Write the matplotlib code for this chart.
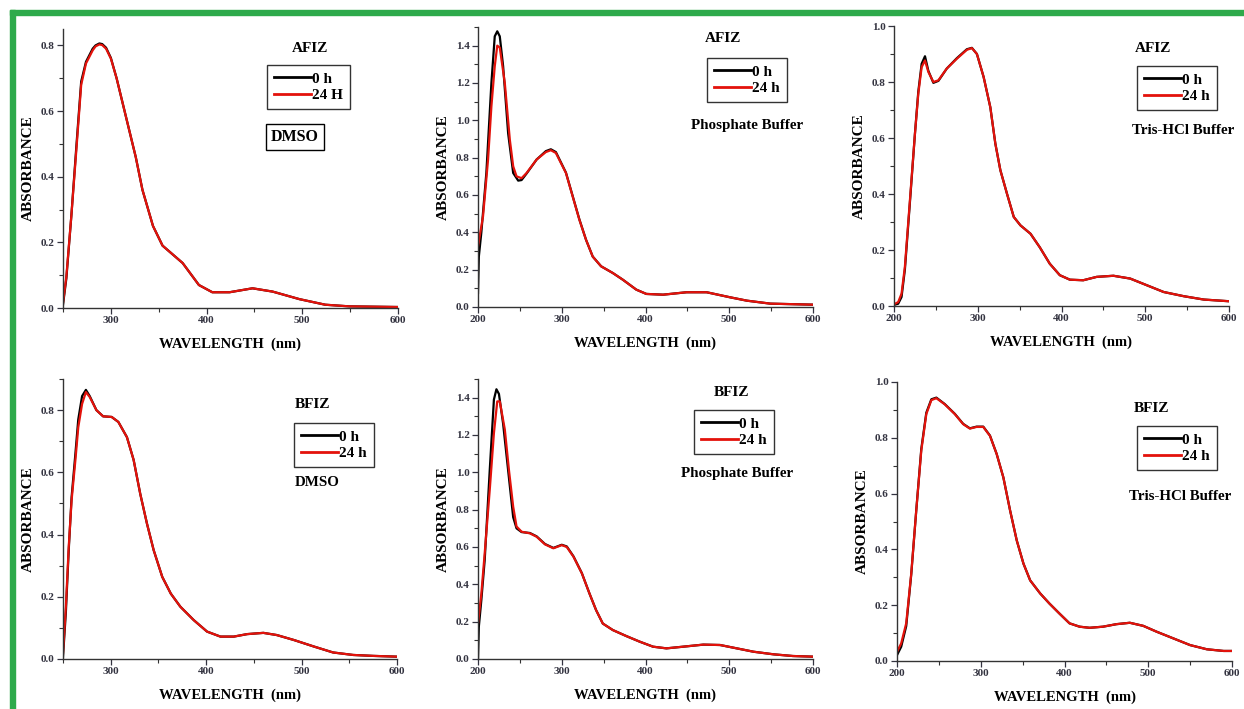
# UV-Vis stability plots for AFIZ / BFIZ in three solvents (0 h vs 24 h)
import matplotlib
matplotlib.use("Agg")
import matplotlib.pyplot as plt
from matplotlib.ticker import MultipleLocator
from matplotlib.lines import Line2D
from matplotlib.patches import Rectangle

plt.rcParams["font.family"] = ["Liberation Serif", "DejaVu Serif"]
plt.rcParams["font.weight"] = "bold"

# ---- AFIZ, DMSO ----
wl_afiz_dmso = [250, 253.5, 258.7, 263.9, 269, 274, 281, 284, 288, 291, 295, 300, 306, 316, 326, 333,
                344, 354, 375, 392, 406, 424, 448, 469, 497, 524, 549, 600]
afiz_dmso_24h = [0.015, 0.096, 0.28, 0.48, 0.68, 0.745, 0.785, 0.797, 0.803, 0.801, 0.79, 0.76, 0.70,
                 0.58, 0.46, 0.36, 0.25, 0.19, 0.137, 0.07, 0.048, 0.048, 0.06, 0.05, 0.027, 0.01,
                 0.005, 0.003]
afiz_dmso_0h = [0.01, 0.09, 0.28, 0.49, 0.69, 0.75, 0.79, 0.80, 0.806, 0.804, 0.793, 0.762, 0.70,
                0.58, 0.46, 0.36, 0.25, 0.19, 0.137, 0.07, 0.048, 0.048, 0.06, 0.05, 0.027, 0.01,
                0.005, 0.003]

# ---- AFIZ, phosphate buffer ----
wl_afiz_pb_24 = [200, 206, 212, 216, 220, 223, 226, 232, 238, 242, 246, 252, 258, 270, 281, 287, 293,
                 305, 313, 321, 329, 337, 347, 361, 373, 389, 401, 421, 449, 473, 501, 521, 549, 600]
afiz_pb_24h = [0.325, 0.486, 0.79, 1.075, 1.29, 1.40, 1.39, 1.2, 0.896, 0.754, 0.70, 0.69, 0.718, 0.79,
               0.83, 0.84, 0.825, 0.718, 0.593, 0.468, 0.36, 0.27, 0.218, 0.182, 0.146, 0.093, 0.07,
               0.066, 0.079, 0.079, 0.052, 0.034, 0.018, 0.0125]
wl_afiz_pb_0 = [200, 201, 204, 210, 216, 220, 223, 226, 230, 236, 242, 248, 252, 258, 270, 281, 287, 293,
                305, 313, 321, 329, 337, 347, 361, 373, 389, 401, 421, 449, 473, 501, 521, 549, 600]
afiz_pb_0h = [0.075, 0.27, 0.40, 0.72, 1.2, 1.45, 1.477, 1.45, 1.29, 0.93, 0.718, 0.677, 0.68, 0.715,
              0.79, 0.835, 0.845, 0.83, 0.72, 0.595, 0.47, 0.36, 0.27, 0.218, 0.182, 0.146, 0.093,
              0.07, 0.066, 0.079, 0.079, 0.052, 0.034, 0.018, 0.0125]

# ---- AFIZ, Tris-HCl buffer ----
wl_afiz_tris = [200, 205, 209, 213, 219, 225, 229, 233, 237, 241, 247, 253, 263, 275, 287, 293, 299,
                307, 315, 321, 327, 335, 343, 351, 363, 374, 386, 398, 410, 426, 442, 462, 482, 502,
                522, 546, 570, 600]
afiz_tris_24h = [0.006, 0.014, 0.044, 0.14, 0.377, 0.615, 0.758, 0.853, 0.877, 0.836, 0.80, 0.806,
                 0.848, 0.883, 0.915, 0.921, 0.90, 0.818, 0.71, 0.58, 0.485, 0.40, 0.318, 0.288,
                 0.258, 0.21, 0.151, 0.11, 0.094, 0.092, 0.104, 0.108, 0.098, 0.074, 0.05, 0.035,
                 0.023, 0.017]
afiz_tris_0h = [0.004, 0.008, 0.032, 0.13, 0.37, 0.615, 0.765, 0.865, 0.892, 0.84, 0.797, 0.804,
                0.848, 0.885, 0.917, 0.922, 0.90, 0.818, 0.71, 0.58, 0.485, 0.40, 0.318, 0.288,
                0.258, 0.21, 0.151, 0.11, 0.094, 0.092, 0.104, 0.108, 0.098, 0.074, 0.05, 0.035,
                0.023, 0.017]

# ---- BFIZ, DMSO ----
wl_bfiz_dmso = [250, 253, 256, 259, 263, 266, 270, 274, 278, 285, 292, 301, 308, 317, 324, 331, 338,
                345, 354, 363, 373, 387, 401, 415, 429, 443, 460, 474, 492, 513, 533, 554, 575, 600]
bfiz_dmso_24h = [0.018, 0.168, 0.36, 0.51, 0.64, 0.745, 0.82, 0.858, 0.842, 0.80, 0.78, 0.778, 0.762,
                 0.713, 0.64, 0.53, 0.435, 0.35, 0.264, 0.21, 0.168, 0.125, 0.088, 0.072, 0.072,
                 0.08, 0.084, 0.077, 0.061, 0.04, 0.021, 0.013, 0.01, 0.0075]
bfiz_dmso_0h = [0.0075, 0.15, 0.35, 0.52, 0.66, 0.77, 0.845, 0.865, 0.845, 0.80, 0.78, 0.778, 0.762,
                0.713, 0.64, 0.53, 0.435, 0.35, 0.264, 0.21, 0.168, 0.125, 0.088, 0.072, 0.072,
                0.08, 0.084, 0.077, 0.061, 0.04, 0.021, 0.013, 0.01, 0.0075]

# ---- BFIZ, phosphate buffer ----
wl_bfiz_pb_24 = [200, 204, 208, 214, 219, 223, 226, 232, 237, 242, 246, 252, 262, 270, 280, 290, 300,
                 306, 314, 324, 333, 341, 349, 361, 377, 393, 409, 425, 445, 469, 489, 509, 529, 553,
                 576, 600]
bfiz_pb_24h = [0.19, 0.35, 0.566, 0.905, 1.21, 1.38, 1.38, 1.23, 1.01, 0.816, 0.71, 0.682, 0.673,
               0.655, 0.614, 0.593, 0.61, 0.60, 0.548, 0.459, 0.352, 0.262, 0.19, 0.155, 0.123,
               0.093, 0.066, 0.057, 0.066, 0.077, 0.075, 0.057, 0.039, 0.025, 0.016, 0.0125]
wl_bfiz_pb_0 = [200, 201, 204, 208, 214, 219, 222, 225, 230, 236, 242, 246, 252, 262, 270, 280, 290,
                300, 306, 314, 324, 333, 341, 349, 361, 377, 393, 409, 425, 445, 469, 489, 509, 529,
                553, 576, 600]
bfiz_pb_0h = [0.0, 0.173, 0.316, 0.53, 1.01, 1.39, 1.445, 1.42, 1.26, 1.01, 0.76, 0.70, 0.68, 0.675,
              0.657, 0.616, 0.595, 0.612, 0.603, 0.55, 0.46, 0.352, 0.262, 0.19, 0.155, 0.123,
              0.093, 0.066, 0.057, 0.066, 0.077, 0.075, 0.057, 0.039, 0.025, 0.016, 0.0125]

# ---- BFIZ, Tris-HCl buffer ----
wl_bfiz_tris = [200, 205, 211, 217, 223, 229, 235, 241, 247, 257, 269, 279, 287, 295, 303, 311, 319,
                327, 335, 343, 351, 359, 371, 382, 394, 406, 418, 430, 446, 462, 478, 494, 510, 530,
                550, 570, 590, 600]
bfiz_tris_24h = [0.033, 0.063, 0.135, 0.313, 0.54, 0.754, 0.885, 0.935, 0.942, 0.92, 0.885, 0.849,
                 0.833, 0.839, 0.839, 0.807, 0.742, 0.658, 0.54, 0.432, 0.349, 0.289, 0.242, 0.206,
                 0.17, 0.135, 0.123, 0.119, 0.123, 0.132, 0.137, 0.126, 0.105, 0.081, 0.057, 0.042,
                 0.036, 0.036]
bfiz_tris_0h = [0.021, 0.051, 0.125, 0.31, 0.54, 0.76, 0.89, 0.938, 0.944, 0.921, 0.886, 0.85,
                0.834, 0.84, 0.84, 0.808, 0.742, 0.658, 0.54, 0.432, 0.349, 0.289, 0.242, 0.206,
                0.17, 0.135, 0.123, 0.119, 0.123, 0.132, 0.137, 0.126, 0.105, 0.081, 0.057, 0.042,
                0.036, 0.036]

W, H = 1244, 709
fig = plt.figure(figsize=(W / 100, H / 100), dpi=100)

# green frame on top and left
fig.patches.append(Rectangle((10 / W, 1 - 15 / H), 1, 5 / H, transform=fig.transFigure,
                             color="#2EAA4B", zorder=0))
fig.patches.append(Rectangle((10 / W, 0), 5 / W, 1 - 10 / H, transform=fig.transFigure,
                             color="#2EAA4B", zorder=0))


def make_axes(left, bottom, right, top):
    return fig.add_axes([left / W, 1 - bottom / H, (right - left) / W, (bottom - top) / H])


def fig_xy(x, y):
    return x / W, 1 - y / H


panels = [
    # box, xlim, ylim, 0h x/y, 24h x/y, compound, label24, solvent, legend box, compound pos, solvent pos, boxed solvent
    ((63, 308, 398, 29), (250, 600), (0, 0.85), wl_afiz_dmso, afiz_dmso_0h, wl_afiz_dmso, afiz_dmso_24h,
     "AFIZ", "24 H", "DMSO", (267, 65), (310, 48), (295, 137), True),
    ((478, 307, 813, 27), (200, 600), (0, 1.5), wl_afiz_pb_0, afiz_pb_0h, wl_afiz_pb_24, afiz_pb_24h,
     "AFIZ", "24 h", "Phosphate Buffer", (707, 58), (723, 39), (747, 125), False),
    ((894, 306, 1229, 26), (200, 600), (0, 1.0), wl_afiz_tris, afiz_tris_0h, wl_afiz_tris, afiz_tris_24h,
     "AFIZ", "24 h", "Tris-HCl Buffer", (1137, 66), (1153, 48), (1183, 131), False),
    ((63, 659, 397, 379), (250, 600), (0, 0.9), wl_bfiz_dmso, bfiz_dmso_0h, wl_bfiz_dmso, bfiz_dmso_24h,
     "BFIZ", "24 h", "DMSO", (294, 423), (313, 405), (317, 483), False),
    ((478, 659, 813, 379), (200, 600), (0, 1.5), wl_bfiz_pb_0, bfiz_pb_0h, wl_bfiz_pb_24, bfiz_pb_24h,
     "BFIZ", "24 h", "Phosphate Buffer", (694, 410), (732, 393), (737, 473), False),
    ((897, 661, 1232, 382), (200, 600), (0, 1.0), wl_bfiz_tris, bfiz_tris_0h, wl_bfiz_tris, bfiz_tris_24h,
     "BFIZ", "24 h", "Tris-HCl Buffer", (1137, 426), (1152, 408), (1180, 496), False),
]

for (box, xlim, ylim, x0, y0, x24, y24, compound, lab24, solvent,
     legpos, cpos, spos, boxed) in panels:
    ax = make_axes(*box)
    ax.plot(x0, y0, color="black", lw=1.6, label="0 h")
    ax.plot(x24, y24, color="#E3120B", lw=1.6, label=lab24)
    ax.set_xlim(*xlim)
    ax.set_ylim(*ylim)
    ax.spines["top"].set_visible(False)
    ax.spines["right"].set_visible(False)
    for s in ("left", "bottom"):
        ax.spines[s].set_color("#333333")
        ax.spines[s].set_linewidth(1.0)
    ax.xaxis.set_major_locator(MultipleLocator(100))
    ax.xaxis.set_minor_locator(MultipleLocator(50))
    ax.yaxis.set_major_locator(MultipleLocator(0.2))
    ax.yaxis.set_minor_locator(MultipleLocator(0.1))
    ax.yaxis.set_major_formatter(plt.FuncFormatter(lambda v, p: "%.1f" % v))
    ax.tick_params(which="major", direction="out", length=4, width=0.9, colors="#333340",
                   labelsize=8, pad=2)
    ax.tick_params(which="minor", direction="out", length=3, width=0.8, colors="#333333")
    for lbl in ax.get_xticklabels() + ax.get_yticklabels():
        lbl.set_fontweight("bold")
    ax.set_xlabel("WAVELENGTH  (nm)", fontsize=10.5, fontweight="bold", labelpad=9)
    ax.set_ylabel("ABSORBANCE", fontsize=11, fontweight="bold", labelpad=4)

    fig.text(*fig_xy(*cpos), compound, ha="center", va="center", fontsize=11, fontweight="bold")
    fig.text(*fig_xy(*spos), solvent, ha="center", va="center",
             fontsize=11.5 if boxed else 10.8, fontweight="bold",
             bbox=dict(boxstyle="square,pad=0.3", fc="white", ec="black", lw=1.0) if boxed else None)
    handles = [Line2D([], [], color="black", lw=2), Line2D([], [], color="#E3120B", lw=2)]
    leg = fig.legend(handles, ["0 h", lab24], loc="upper left", bbox_to_anchor=fig_xy(*legpos),
                     bbox_transform=fig.transFigure, frameon=True, fancybox=False,
                     prop={"family": "Liberation Serif", "weight": "bold", "size": 11},
                     handlelength=2.4, handletextpad=0.1, labelspacing=0.2, borderpad=0.45,
                     borderaxespad=0)
    leg.get_frame().set_edgecolor("black")
    leg.get_frame().set_linewidth(1.0)

fig.savefig("out.png", dpi=100)
